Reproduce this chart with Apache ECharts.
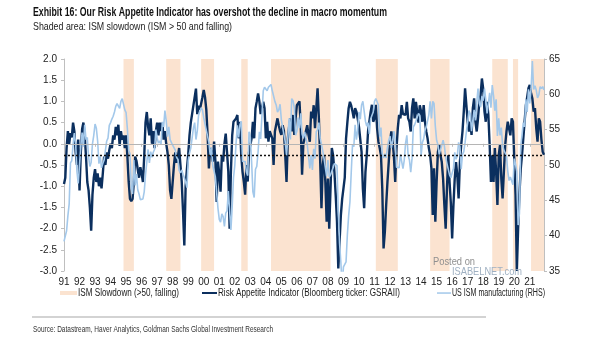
<!DOCTYPE html>
<html>
<head>
<meta charset="utf-8">
<script src="https://cdn.jsdelivr.net/npm/echarts@6/dist/echarts.min.js"></script>
<style>
html,body{margin:0;padding:0;background:#fff;}
#chart{width:605px;height:341px;}
</style>
</head>
<body>
<div id="chart"></div>
<script>
// ---------------- DATA ----------------
const startYear = 1991;
const endYear = 2021;

// Goldman Sachs Risk Appetite Indicator (LHS), monthly Jan-1991 .. Dec-2021
const riskAppetite = [
  -0.95,-0.8,-0.1,0.3,0.0,0.25,0.15,0.5,0.3,-0.2,-0.5,0.1,
  -1.1,-0.2,0.35,0.5,0.2,-0.3,-0.9,-1.1,-1.5,-2.05,-1.2,-0.8,
  -0.6,-0.9,-0.7,-1.0,-0.8,-1.05,-0.7,-0.3,-0.5,-0.2,-0.35,-0.15,
  0.0,-0.1,0.2,0.1,0.4,0.2,0.45,-0.05,0.3,0.1,0.2,-0.1,
  0.2,-0.3,-0.9,-1.3,-1.35,-1.3,-0.9,-0.3,-0.4,-0.6,-0.8,-0.55,
  -0.7,-0.9,-0.3,0.5,0.75,0.4,0.2,0.6,0.0,0.3,-0.1,0.3,
  0.5,0.2,0.5,0.3,0.5,0.1,0.3,0.0,-0.2,-0.5,-1.1,-1.3,
  -1.3,-0.5,-0.2,-0.45,-0.3,-0.1,-0.5,-0.9,-1.6,-2.4,-1.0,-0.6,
  -0.25,0.2,0.5,0.7,0.9,1.1,1.3,0.7,0.9,0.8,0.8,1.1,
  1.27,1.1,0.8,0.2,-0.58,-0.1,-0.2,-0.42,0.05,-0.4,-1.37,-0.42,
  -0.7,-1.13,-0.27,-0.42,0.0,0.24,-0.2,-0.65,-2.0,-0.66,0.2,0.52,
  0.52,0.6,0.68,0.13,0.52,-0.27,-0.66,-0.9,-1.2,-0.5,-0.89,-0.2,
  -0.2,0.13,0.52,0.13,0.84,1.0,1.19,1.0,0.7,0.68,0.99,0.84,
  0.13,0.52,0.05,0.3,0.29,0.13,-0.5,0.29,0.45,0.6,0.44,0.3,
  0.21,0.44,0.3,-0.27,-0.9,0.13,0.4,0.6,0.29,0.68,0.21,0.6,
  0.91,0.95,1.0,0.4,-0.73,0.0,0.13,0.3,0.44,0.2,0.05,0.76,
  0.6,0.91,0.37,0.84,1.31,0.6,-0.4,-1.52,-0.5,-0.27,-0.9,-1.84,
  -0.82,-2.0,-1.05,-0.1,-0.27,-0.66,-1.21,-1.84,-2.94,-2.3,-1.68,-1.3,
  -1.05,-0.8,0.13,0.5,0.84,0.99,0.9,0.76,0.6,0.84,0.76,0.6,
  0.4,0.37,-0.19,-1.06,-1.52,-0.66,-0.27,0.29,0.52,0.75,0.92,0.52,
  0.6,0.92,0.37,0.05,-0.1,-0.27,-1.06,-2.47,-2.07,-1.45,-0.9,-0.43,
  0.05,0.29,0.05,-0.3,-0.9,-0.11,0.37,0.68,0.6,0.91,0.7,0.68,
  0.68,0.99,0.6,0.52,0.29,0.84,1.07,0.6,0.99,0.76,0.5,0.91,
  0.76,0.52,0.91,0.52,0.29,0.13,-0.1,-0.27,-0.58,-1.68,-0.58,-1.84,
  -0.9,-0.19,-0.03,-0.27,-0.43,-0.82,-1.45,-2.0,-1.05,-0.27,-0.9,-1.4,
  -2.23,-1.45,-0.82,-0.43,-0.75,-1.29,-0.43,-0.03,0.29,0.76,1.31,0.91,
  0.52,0.29,0.52,0.21,0.84,1.07,0.52,0.29,0.6,0.99,1.15,1.54,
  1.3,0.76,0.52,0.99,0.68,-0.03,-0.9,-0.27,-0.9,-0.1,-0.66,-1.44,
  -0.27,-0.03,-0.82,-1.29,-0.66,-0.03,0.29,0.52,0.52,0.2,0.6,0.52,
  0.5,-1.2,-3.0,-2.0,-1.2,-0.6,-0.27,0.13,0.52,0.91,1.1,1.31,
  1.39,1.2,1.07,0.76,0.84,0.37,0.05,0.6,0.52,0.1,-0.19,-0.26
];

// US ISM manufacturing (RHS), monthly Jan-1991 .. Dec-2021
const ismManufacturing = [
  39.2,39.4,40.7,42.8,44.5,50.3,50.6,52.9,54.5,53.0,49.1,47.4,
  47.3,52.7,54.6,52.6,55.7,53.6,53.9,51.1,49.8,50.4,53.0,54.2,
  55.8,55.2,53.4,50.2,51.2,49.6,50.2,50.7,50.8,53.4,53.8,55.6,
  56.0,56.5,56.9,57.5,58.3,58.7,58.5,58.0,59.0,59.4,59.2,57.8,
  57.4,55.1,52.1,51.6,46.7,45.9,50.7,47.1,48.7,46.5,45.9,45.1,
  45.2,45.2,46.2,48.6,48.4,52.2,50.3,51.9,51.1,51.8,52.2,55.0,
  53.8,53.1,53.4,52.9,56.1,55.4,57.7,56.3,54.0,55.4,53.6,53.7,
  52.8,52.9,52.1,51.1,50.8,49.2,48.9,49.3,48.7,48.2,47.6,46.8,
  50.6,51.7,52.4,52.3,55.2,56.0,53.6,54.8,57.0,57.2,58.1,57.8,
  56.7,55.8,54.9,54.7,53.2,51.4,52.5,49.9,49.9,48.3,48.5,43.9,
  42.3,41.9,43.1,42.7,41.3,43.2,43.5,46.3,46.2,40.8,44.1,48.2,
  49.9,53.1,55.6,53.9,55.7,56.2,50.5,50.3,50.5,49.0,48.5,54.7,
  53.9,50.5,46.2,45.4,49.4,49.8,51.8,54.7,53.7,57.0,60.5,61.0,
  61.2,60.5,61.0,61.2,61.4,60.5,60.6,59.0,58.5,57.5,57.8,58.6,
  56.4,55.3,55.2,53.3,51.4,53.8,56.6,53.6,59.4,59.1,58.1,54.2,
  54.8,56.7,55.2,57.3,54.4,53.8,54.7,54.5,52.9,51.2,49.5,51.4,
  49.3,52.3,50.9,54.7,55.0,56.0,53.8,52.9,52.0,50.9,50.8,48.4,
  50.7,48.3,48.6,48.6,49.6,50.2,50.0,49.9,43.5,38.9,36.2,32.9,
  35.6,35.8,36.3,40.1,42.8,44.8,48.9,52.9,52.6,55.7,53.6,54.9,
  57.5,56.5,58.5,59.0,58.8,56.2,55.5,56.0,54.4,56.5,56.6,57.5,
  59.0,59.4,59.2,58.5,54.0,55.3,51.5,51.0,51.6,51.0,52.5,53.5,
  54.1,52.4,53.4,54.8,53.5,49.7,49.8,49.6,51.5,51.7,49.5,50.7,
  53.1,54.2,51.3,50.7,49.0,50.9,55.4,55.7,56.2,56.4,57.3,57.0,
  51.3,53.2,53.7,54.9,55.4,55.3,57.1,59.0,56.6,59.0,58.7,55.5,
  53.5,52.9,51.5,51.5,52.8,53.5,52.7,51.1,50.2,50.1,48.6,48.2,
  48.2,49.5,51.8,50.8,51.3,53.2,52.6,49.4,51.5,51.9,53.2,54.7,
  56.0,57.7,57.2,54.8,54.9,57.8,56.3,58.8,60.8,58.7,58.2,59.7,
  59.1,60.8,59.3,57.3,58.7,60.2,58.1,61.3,59.8,57.7,59.3,54.1,
  56.6,54.2,55.3,52.8,52.1,51.7,51.2,49.1,47.8,48.3,48.1,47.2,
  50.9,50.1,49.1,41.5,43.1,52.6,54.2,56.0,55.4,59.3,57.5,60.7,
  58.7,60.8,64.7,60.7,61.2,60.6,59.5,59.9,61.1,60.8,61.1,60.6
];

// ISM slowdown periods (ISM > 50 and falling): [start month, end month]
const slowdownStarts = ['1994-11','1997-08','1999-11','2002-06','2004-05','2011-02','2014-08','2018-08','2019-12','2021-02'];
const slowdownEnds   = ['1995-07','1998-07','2000-09','2002-11','2008-03','2012-07','2015-11','2019-08','2020-04','2021-12'];

// Reference levels on the LHS axis
const zeroLevel = 0;
const averageLevel = -0.26;

// Axis tick settings
const leftTicks = { min: -3, max: 2, step: 0.5 };
const rightTicks = { min: 35, max: 65, step: 5 };

const titleText = 'Exhibit 16: Our Risk Appetite Indicator has overshot the decline in macro momentum';
const subtitleText = 'Shaded area: ISM slowdown (ISM > 50 and falling)';
const sourceText = 'Source: Datastream, Haver Analytics, Goldman Sachs Global Investment Research';
const legendNames = ['ISM Slowdown (>50, falling)', 'Risk Appetite Indicator (Bloomberg ticker: GSRAII)', 'US ISM manufacturing (RHS)'];

// ---------------- BUILD ----------------
const months = [];
for (let y = startYear; y <= endYear; y++) {
  for (let m = 1; m <= 12; m++) months.push(y + '-' + (m < 10 ? '0' + m : '' + m));
}

const COL_SHADE = '#fbe3d0';
const COL_DARK = '#0b2f5e';
const COL_LIGHT = '#a3c8ea';
const FONT = '"Liberation Sans", Arial, sans-serif';

const measureCtx = document.createElement('canvas').getContext('2d');
function fitText(text, x, y, targetW, size, weight, color, z) {
  const font = (weight || 'normal') + ' ' + size + 'px ' + FONT;
  measureCtx.font = font;
  const w = measureCtx.measureText(text).width;
  return {
    type: 'text', x: x, y: y, scaleX: targetW / w, silent: true, z: z || 10,
    style: { text: text, font: font, fill: color, align: 'left', verticalAlign: 'middle',
             textAlign: 'left', textVerticalAlign: 'middle' }
  };
}

const chart = echarts.init(document.getElementById('chart'), null, { renderer: 'canvas' });

const option = {
  backgroundColor: '#fff',
  animation: false,
  grid: { left: 64, right: 61, top: 59, bottom: 70, containLabel: false },
  xAxis: {
    type: 'category', data: months, boundaryGap: false,
    axisLine: { lineStyle: { color: '#bfbfbf', width: 1 } },
    axisTick: { show: true, length: 3, interval: (i) => i % 12 === 0, lineStyle: { color: '#bfbfbf' } },
    axisLabel: {
      interval: (i) => i % 12 === 0,
      formatter: (v) => v.slice(2, 4),
      color: '#222', fontSize: 10, fontFamily: FONT, margin: 6
    },
    splitLine: { show: false }
  },
  yAxis: [
    {
      type: 'value', min: leftTicks.min, max: leftTicks.max, interval: leftTicks.step,
      axisLine: { show: true, lineStyle: { color: '#bfbfbf' } },
      axisTick: { show: true, length: 3, lineStyle: { color: '#bfbfbf' } },
      axisLabel: { formatter: (v) => v.toFixed(1), color: '#222', fontSize: 10, fontFamily: FONT, margin: 7 },
      splitLine: { show: false }
    },
    {
      type: 'value', min: rightTicks.min, max: rightTicks.max, interval: rightTicks.step,
      position: 'right',
      axisLine: { show: true, lineStyle: { color: '#bfbfbf' } },
      axisTick: { show: true, length: 3, lineStyle: { color: '#bfbfbf' } },
      axisLabel: { color: '#222', fontSize: 10, fontFamily: FONT, margin: 5 },
      splitLine: { show: false }
    }
  ],
  series: [
    {
      name: legendNames[0], type: 'line', z: 1, yAxisIndex: 0,
      data: months.map(() => null), symbol: 'none', silent: true,
      lineStyle: { color: COL_SHADE },
      markArea: {
        silent: true,
        itemStyle: { color: COL_SHADE, opacity: 1 },
        data: slowdownStarts.map((s, k) => [{ xAxis: s }, { xAxis: slowdownEnds[k] }])
      },
      markLine: {
        silent: true, symbol: 'none', label: { show: false },
        lineStyle: { color: '#b5b5b5', type: 'solid', width: 1 },
        data: [{ yAxis: zeroLevel }]
      }
    },
    {
      name: legendNames[1], type: 'line', z: 3, yAxisIndex: 0,
      data: riskAppetite, symbol: 'none', clip: true,
      lineStyle: { color: COL_DARK, width: 2.4 },
      markLine: {
        silent: true, symbol: 'none', label: { show: false },
        lineStyle: { color: '#111', type: [2, 2], width: 1.4 },
        data: [{ yAxis: averageLevel }]
      }
    },
    {
      name: legendNames[2], type: 'line', z: 4, yAxisIndex: 1,
      data: ismManufacturing, symbol: 'none', clip: true,
      lineStyle: { color: COL_LIGHT, width: 1.6 }
    }
  ],
  graphic: [
    fitText(titleText, 33, 13, 354, 12, 'bold', '#111'),
    fitText(subtitleText, 33, 27, 199, 11, 'normal', '#222'),
    // legend
    { type: 'rect', silent: true, z: 10, shape: { x: 60, y: 291, width: 17, height: 4 }, style: { fill: COL_SHADE } },
    fitText(legendNames[0], 78, 293, 101, 10, 'normal', '#222'),
    { type: 'rect', silent: true, z: 10, shape: { x: 202, y: 292, width: 15, height: 2 }, style: { fill: COL_DARK } },
    fitText(legendNames[1], 218, 293, 182, 10, 'normal', '#222'),
    { type: 'rect', silent: true, z: 10, shape: { x: 437, y: 292.3, width: 14, height: 1.5 }, style: { fill: COL_LIGHT } },
    fitText(legendNames[2], 452, 293, 93, 10, 'normal', '#222'),
    // watermark
    fitText('Posted on', 433, 262, 42, 10, 'normal', '#8f8f8f', 100),
    fitText('ISABELNET.com', 452, 272, 70, 11, 'normal', '#9fb0c2', 100),
    // footer
    { type: 'line', silent: true, z: 10, shape: { x1: 32, y1: 317, x2: 486, y2: 317 }, style: { stroke: '#c4c4c4', lineWidth: 1.5 } },
    fitText(sourceText, 33, 329.5, 240, 9, 'normal', '#333')
  ]
};

chart.setOption(option);
</script>
</body>
</html>
